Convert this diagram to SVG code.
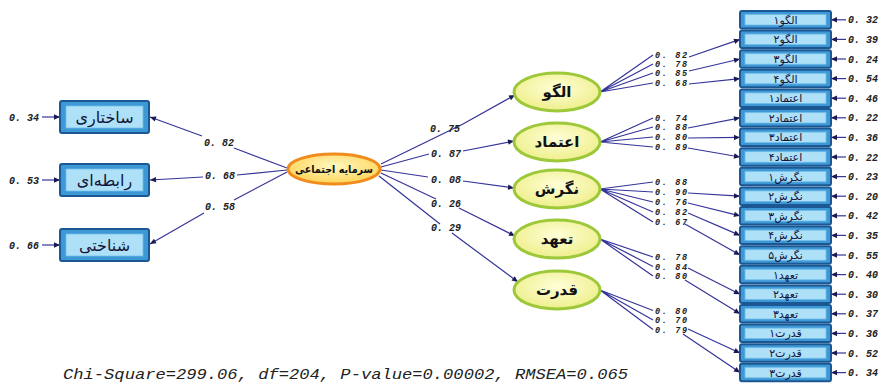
<svg xmlns="http://www.w3.org/2000/svg" width="880" height="385" viewBox="0 0 880 385">
<style>
.ln{fill:none;stroke:#34349a;stroke-width:1.2}
.num{font-family:"Liberation Mono",monospace;font-style:italic;font-weight:bold;font-size:10px;fill:#222}
.nr{font-size:8.5px}
.bo{fill:#3f98d6;stroke:#1b5792;stroke-width:2}
.bi{fill:#aee1f8;stroke:#6fbde8;stroke-width:0.8}
.bt{font-family:"DejaVu Sans",sans-serif;fill:#14143a;text-anchor:middle}
.et{font-family:"DejaVu Sans",sans-serif;fill:#111;text-anchor:middle}
.ge{fill:url(#gg);stroke:#9cc83a;stroke-width:3}
</style>
<defs>
<marker id="arr" viewBox="0 0 10 10" refX="10" refY="5" markerWidth="9" markerHeight="6" markerUnits="userSpaceOnUse" orient="auto">
<path d="M0,0.5 L10,5 L0,9.5 z" fill="#1a1a55"/>
</marker>
<radialGradient id="gg" cx="50%" cy="40%" r="60%">
<stop offset="0" stop-color="#ffffd8"/>
<stop offset="1" stop-color="#eeee8a"/>
</radialGradient>
<radialGradient id="og" cx="50%" cy="40%" r="60%">
<stop offset="0" stop-color="#fff8c0"/>
<stop offset="1" stop-color="#ffd458"/>
</radialGradient>
</defs>
<rect width="880" height="385" fill="#fff"/>

<g id="connectors">
<path class="ln" d="M287,168 L234,148 M202,136 L150,117" marker-end="url(#arr)"/>
<path class="ln" d="M287,170 L237,175 M203,177 L150,180" marker-end="url(#arr)"/>
<path class="ln" d="M287,172 L234,200 M204,213 L150,244" marker-end="url(#arr)"/>
<path class="ln" d="M381,164 L463,124 L515,95" marker-end="url(#arr)"/>
<path class="ln" d="M381,167 L429,154 M463,151 L514,141" marker-end="url(#arr)"/>
<path class="ln" d="M381,170 L428,177 M463,181 L514,188" marker-end="url(#arr)"/>
<path class="ln" d="M381,173 L436,199 M459,208 L515,236" marker-end="url(#arr)"/>
<path class="ln" d="M379,176 L440,224 M452,233 L518,282" marker-end="url(#arr)"/>
<path class="ln" d="M600,92 L653,55 M600,92 L653,64 M600,92 L653,73 M600,92 L653,83"/>
<path class="ln" d="M600,142 L653,118 M600,142 L653,127 M600,142 L653,137 M600,142 L653,147"/>
<path class="ln" d="M600,189 L653,182 M600,189 L653,192 M600,189 L653,202 M600,189 L653,212 M600,189 L653,222"/>
<path class="ln" d="M600,239 L653,257 M600,239 L653,266.5 M600,239 L653,276"/>
<path class="ln" d="M600,290 L653,310.5 M600,290 L653,320 M600,290 L653,329.5"/>
<path class="ln" d="M689,57 L740,39.4" marker-end="url(#arr)"/>
<path class="ln" d="M689,71 L740,59" marker-end="url(#arr)"/>
<path class="ln" d="M689,84 L740,78.6" marker-end="url(#arr)"/>
<path class="ln" d="M688,128 L740,117.8" marker-end="url(#arr)"/>
<path class="ln" d="M688,138 L740,137.4" marker-end="url(#arr)"/>
<path class="ln" d="M688,148 L740,157" marker-end="url(#arr)"/>
<path class="ln" d="M688,193 L740,196.2" marker-end="url(#arr)"/>
<path class="ln" d="M688,203 L740,215.8" marker-end="url(#arr)"/>
<path class="ln" d="M688,213 L740,235.4" marker-end="url(#arr)"/>
<path class="ln" d="M685,224 L740,255" marker-end="url(#arr)"/>
<path class="ln" d="M688,268 L740,294.2" marker-end="url(#arr)"/>
<path class="ln" d="M685,280 L740,313.8" marker-end="url(#arr)"/>
<path class="ln" d="M688,329 L740,353" marker-end="url(#arr)"/>
<path class="ln" d="M683,334 L740,372.6" marker-end="url(#arr)"/>
<path class="ln" d="M42,117 L60,117" marker-end="url(#arr)"/>
<path class="ln" d="M42,180 L60,180" marker-end="url(#arr)"/>
<path class="ln" d="M42,245 L60,245" marker-end="url(#arr)"/>
<path class="ln" d="M846,19.8 L831,19.8" marker-end="url(#arr)"/>
<path class="ln" d="M846,39.4 L831,39.4" marker-end="url(#arr)"/>
<path class="ln" d="M846,59 L831,59" marker-end="url(#arr)"/>
<path class="ln" d="M846,78.6 L831,78.6" marker-end="url(#arr)"/>
<path class="ln" d="M846,98.2 L831,98.2" marker-end="url(#arr)"/>
<path class="ln" d="M846,117.8 L831,117.8" marker-end="url(#arr)"/>
<path class="ln" d="M846,137.4 L831,137.4" marker-end="url(#arr)"/>
<path class="ln" d="M846,157 L831,157" marker-end="url(#arr)"/>
<path class="ln" d="M846,176.6 L831,176.6" marker-end="url(#arr)"/>
<path class="ln" d="M846,196.2 L831,196.2" marker-end="url(#arr)"/>
<path class="ln" d="M846,215.8 L831,215.8" marker-end="url(#arr)"/>
<path class="ln" d="M846,235.4 L831,235.4" marker-end="url(#arr)"/>
<path class="ln" d="M846,255 L831,255" marker-end="url(#arr)"/>
<path class="ln" d="M846,274.6 L831,274.6" marker-end="url(#arr)"/>
<path class="ln" d="M846,294.2 L831,294.2" marker-end="url(#arr)"/>
<path class="ln" d="M846,313.8 L831,313.8" marker-end="url(#arr)"/>
<path class="ln" d="M846,333.4 L831,333.4" marker-end="url(#arr)"/>
<path class="ln" d="M846,353 L831,353" marker-end="url(#arr)"/>
<path class="ln" d="M846,372.6 L831,372.6" marker-end="url(#arr)"/>
</g>

<g id="path-labels">
<text class="num" x="204" y="146">0. 82</text>
<text class="num" x="205" y="179">0. 68</text>
<text class="num" x="205" y="210">0. 58</text>
<text class="num" x="430" y="132">0. 75</text>
<text class="num" x="431" y="157">0. 87</text>
<text class="num" x="431" y="183">0. 08</text>
<text class="num" x="431" y="207">0. 26</text>
<text class="num" x="431" y="231">0. 29</text>
<text class="num nr" x="655" y="58" textLength="32">0. 82</text>
<text class="num nr" x="655" y="67" textLength="32">0. 78</text>
<text class="num nr" x="655" y="76" textLength="32">0. 85</text>
<text class="num nr" x="655" y="86" textLength="32">0. 68</text>
<text class="num nr" x="655" y="121" textLength="32">0. 74</text>
<text class="num nr" x="655" y="130" textLength="32">0. 88</text>
<text class="num nr" x="655" y="140" textLength="32">0. 80</text>
<text class="num nr" x="655" y="150" textLength="32">0. 89</text>
<text class="num nr" x="655" y="185" textLength="32">0. 88</text>
<text class="num nr" x="655" y="195" textLength="32">0. 90</text>
<text class="num nr" x="655" y="205" textLength="32">0. 76</text>
<text class="num nr" x="655" y="215" textLength="32">0. 82</text>
<text class="num nr" x="655" y="225" textLength="32">0. 67</text>
<text class="num nr" x="655" y="260" textLength="32">0. 78</text>
<text class="num nr" x="655" y="269.5" textLength="32">0. 84</text>
<text class="num nr" x="655" y="279" textLength="32">0. 80</text>
<text class="num nr" x="655" y="313.5" textLength="32">0. 80</text>
<text class="num nr" x="655" y="323" textLength="32">0. 70</text>
<text class="num nr" x="655" y="332.5" textLength="32">0. 79</text>
</g>

<g id="error-labels">
<text class="num" x="9" y="121">0. 34</text>
<text class="num" x="9" y="184">0. 53</text>
<text class="num" x="9" y="249">0. 66</text>
<text class="num" x="848" y="23.3">0. 32</text>
<text class="num" x="848" y="42.9">0. 39</text>
<text class="num" x="848" y="62.5">0. 24</text>
<text class="num" x="848" y="82.1">0. 54</text>
<text class="num" x="848" y="101.7">0. 46</text>
<text class="num" x="848" y="121.3">0. 22</text>
<text class="num" x="848" y="140.9">0. 36</text>
<text class="num" x="848" y="160.5">0. 22</text>
<text class="num" x="848" y="180.1">0. 23</text>
<text class="num" x="848" y="199.7">0. 20</text>
<text class="num" x="848" y="219.3">0. 42</text>
<text class="num" x="848" y="238.9">0. 35</text>
<text class="num" x="848" y="258.5">0. 55</text>
<text class="num" x="848" y="278.1">0. 40</text>
<text class="num" x="848" y="297.7">0. 30</text>
<text class="num" x="848" y="317.3">0. 37</text>
<text class="num" x="848" y="336.9">0. 36</text>
<text class="num" x="848" y="356.5">0. 52</text>
<text class="num" x="848" y="376.1">0. 34</text>
</g>

<g id="node-sakhtari"><rect class="bo" x="60" y="101" width="89" height="32" rx="2"/><rect class="bi" x="66" y="106" width="77" height="22"/><text class="bt" x="104.5" y="123" font-size="16" direction="rtl">ساختاری</text></g>
<g id="node-rabetei"><rect class="bo" x="60" y="164" width="89" height="32" rx="2"/><rect class="bi" x="66" y="169" width="77" height="22"/><text class="bt" x="104.5" y="186" font-size="16" direction="rtl">رابطه‌ای</text></g>
<g id="node-shenakhti"><rect class="bo" x="60" y="229" width="89" height="32" rx="2"/><rect class="bi" x="66" y="234" width="77" height="22"/><text class="bt" x="104.5" y="251" font-size="16" direction="rtl">شناختی</text></g>

<g id="node-sarmaye"><ellipse cx="334" cy="169" rx="46" ry="15" fill="url(#og)" stroke="#f08c1e" stroke-width="3"/><text class="et" x="334" y="173" font-size="11" font-weight="bold" direction="rtl" textLength="78" lengthAdjust="spacingAndGlyphs">سرمایه اجتماعی</text></g>

<g id="node-olgoo"><ellipse class="ge" cx="557" cy="92" rx="43" ry="19"/><text class="et" x="557" y="97" font-size="15" font-weight="bold" direction="rtl">الگو</text></g>
<g id="node-etemad"><ellipse class="ge" cx="557" cy="142" rx="43" ry="19"/><text class="et" x="557" y="147" font-size="15" font-weight="bold" direction="rtl">اعتماد</text></g>
<g id="node-negaresh"><ellipse class="ge" cx="557" cy="189" rx="43" ry="19"/><text class="et" x="557" y="194" font-size="15" font-weight="bold" direction="rtl">نگرش</text></g>
<g id="node-taahod"><ellipse class="ge" cx="557" cy="239" rx="43" ry="19"/><text class="et" x="557" y="244" font-size="15" font-weight="bold" direction="rtl">تعهد</text></g>
<g id="node-ghodrat"><ellipse class="ge" cx="557" cy="290" rx="43" ry="19"/><text class="et" x="557" y="295" font-size="15" font-weight="bold" direction="rtl">قدرت</text></g>

<g id="node-i1"><rect class="bo" x="740" y="11" width="91" height="17.5" rx="2"/><rect class="bi" x="745" y="14.5" width="81" height="10.5"/><text class="bt" x="785.5" y="23.8" font-size="11" direction="rtl">الگو۱</text></g>
<g id="node-i2"><rect class="bo" x="740" y="30.6" width="91" height="17.5" rx="2"/><rect class="bi" x="745" y="34.1" width="81" height="10.5"/><text class="bt" x="785.5" y="43.4" font-size="11" direction="rtl">الگو۲</text></g>
<g id="node-i3"><rect class="bo" x="740" y="50.2" width="91" height="17.5" rx="2"/><rect class="bi" x="745" y="53.7" width="81" height="10.5"/><text class="bt" x="785.5" y="63" font-size="11" direction="rtl">الگو۳</text></g>
<g id="node-i4"><rect class="bo" x="740" y="69.8" width="91" height="17.5" rx="2"/><rect class="bi" x="745" y="73.3" width="81" height="10.5"/><text class="bt" x="785.5" y="82.6" font-size="11" direction="rtl">الگو۴</text></g>
<g id="node-i5"><rect class="bo" x="740" y="89.4" width="91" height="17.5" rx="2"/><rect class="bi" x="745" y="92.9" width="81" height="10.5"/><text class="bt" x="785.5" y="102.2" font-size="11" direction="rtl">اعتماد۱</text></g>
<g id="node-i6"><rect class="bo" x="740" y="109" width="91" height="17.5" rx="2"/><rect class="bi" x="745" y="112.5" width="81" height="10.5"/><text class="bt" x="785.5" y="121.8" font-size="11" direction="rtl">اعتماد۲</text></g>
<g id="node-i7"><rect class="bo" x="740" y="128.6" width="91" height="17.5" rx="2"/><rect class="bi" x="745" y="132.1" width="81" height="10.5"/><text class="bt" x="785.5" y="141.4" font-size="11" direction="rtl">اعتماد۳</text></g>
<g id="node-i8"><rect class="bo" x="740" y="148.2" width="91" height="17.5" rx="2"/><rect class="bi" x="745" y="151.7" width="81" height="10.5"/><text class="bt" x="785.5" y="161" font-size="11" direction="rtl">اعتماد۴</text></g>
<g id="node-i9"><rect class="bo" x="740" y="167.8" width="91" height="17.5" rx="2"/><rect class="bi" x="745" y="171.3" width="81" height="10.5"/><text class="bt" x="785.5" y="180.6" font-size="11" direction="rtl">نگرش۱</text></g>
<g id="node-i10"><rect class="bo" x="740" y="187.4" width="91" height="17.5" rx="2"/><rect class="bi" x="745" y="190.9" width="81" height="10.5"/><text class="bt" x="785.5" y="200.2" font-size="11" direction="rtl">نگرش۲</text></g>
<g id="node-i11"><rect class="bo" x="740" y="207" width="91" height="17.5" rx="2"/><rect class="bi" x="745" y="210.5" width="81" height="10.5"/><text class="bt" x="785.5" y="219.8" font-size="11" direction="rtl">نگرش۳</text></g>
<g id="node-i12"><rect class="bo" x="740" y="226.6" width="91" height="17.5" rx="2"/><rect class="bi" x="745" y="230.1" width="81" height="10.5"/><text class="bt" x="785.5" y="239.4" font-size="11" direction="rtl">نگرش۴</text></g>
<g id="node-i13"><rect class="bo" x="740" y="246.2" width="91" height="17.5" rx="2"/><rect class="bi" x="745" y="249.7" width="81" height="10.5"/><text class="bt" x="785.5" y="259" font-size="11" direction="rtl">نگرش۵</text></g>
<g id="node-i14"><rect class="bo" x="740" y="265.8" width="91" height="17.5" rx="2"/><rect class="bi" x="745" y="269.3" width="81" height="10.5"/><text class="bt" x="785.5" y="278.6" font-size="11" direction="rtl">تعهد۱</text></g>
<g id="node-i15"><rect class="bo" x="740" y="285.4" width="91" height="17.5" rx="2"/><rect class="bi" x="745" y="288.9" width="81" height="10.5"/><text class="bt" x="785.5" y="298.2" font-size="11" direction="rtl">تعهد۲</text></g>
<g id="node-i16"><rect class="bo" x="740" y="305" width="91" height="17.5" rx="2"/><rect class="bi" x="745" y="308.5" width="81" height="10.5"/><text class="bt" x="785.5" y="317.8" font-size="11" direction="rtl">تعهد۳</text></g>
<g id="node-i17"><rect class="bo" x="740" y="324.6" width="91" height="17.5" rx="2"/><rect class="bi" x="745" y="328.1" width="81" height="10.5"/><text class="bt" x="785.5" y="337.4" font-size="11" direction="rtl">قدرت۱</text></g>
<g id="node-i18"><rect class="bo" x="740" y="344.2" width="91" height="17.5" rx="2"/><rect class="bi" x="745" y="347.7" width="81" height="10.5"/><text class="bt" x="785.5" y="357" font-size="11" direction="rtl">قدرت۲</text></g>
<g id="node-i19"><rect class="bo" x="740" y="363.8" width="91" height="17.5" rx="2"/><rect class="bi" x="745" y="367.3" width="81" height="10.5"/><text class="bt" x="785.5" y="376.6" font-size="11" direction="rtl">قدرت۳</text></g>

<text x="63" y="379" font-family="Liberation Mono, monospace" font-style="italic" font-size="15" fill="#222" textLength="565" lengthAdjust="spacingAndGlyphs">Chi-Square=299.06, df=204, P-value=0.00002, RMSEA=0.065</text>
</svg>
